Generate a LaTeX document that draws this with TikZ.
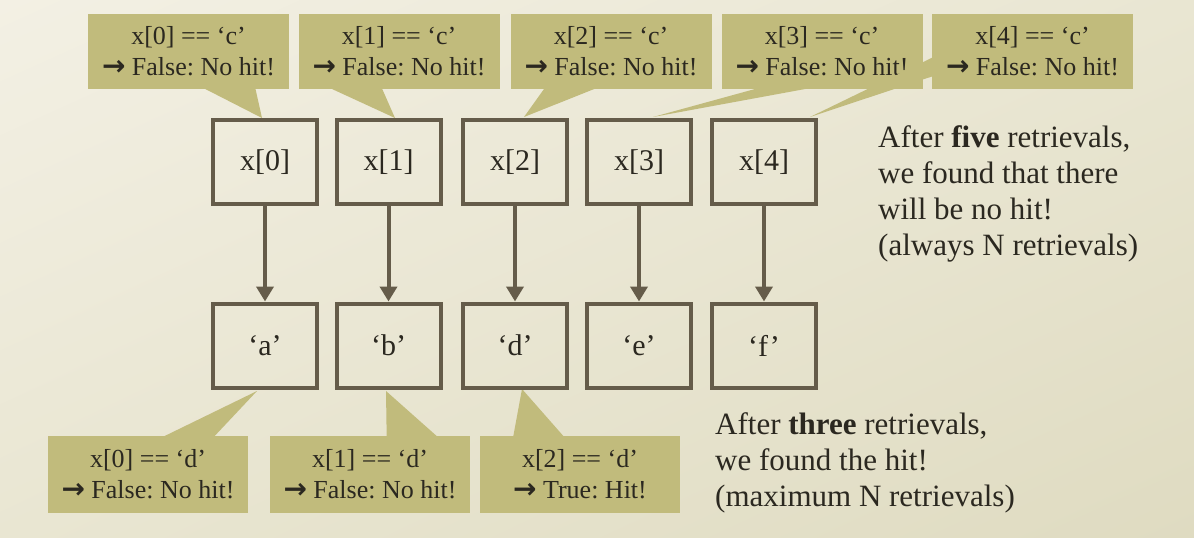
\documentclass[tikz,border=0pt]{standalone}
\usepackage{fontspec}
\setmainfont{Liberation Serif}
\newfontfamily\arrowfont{DejaVu Sans}
\usetikzlibrary{arrows.meta,calc,shadings}
\definecolor{bgA}{HTML}{F3F0E4}
\definecolor{bgM}{HTML}{E9E6D2}
\definecolor{bgB}{HTML}{DFDBC1}
\definecolor{olive}{HTML}{C1BB7C}
\definecolor{boxline}{HTML}{655C4A}
\definecolor{ink}{HTML}{2B2820}
\newcommand\hitarrow{{\arrowfont\bfseries\fontsize{28}{31}\selectfont →}}
\frenchspacing
\begin{document}
\begin{tikzpicture}[x=1pt,y=-1pt,
  callout/.style={fill=olive, minimum width=201pt, minimum height=75pt, inner sep=0pt, outer sep=0pt, align=center, text=ink, font=\fontsize{26}{31}\selectfont},
  bcallout/.style={callout, minimum width=200pt, minimum height=77pt},
  cell/.style={draw=boxline, line width=4pt, minimum width=104pt, minimum height=84pt, inner sep=0pt, text=ink, font=\fontsize{30}{36}\selectfont},
  link/.style={draw=boxline, line width=4pt, -{Triangle[width=17pt,length=15pt]}},
  note/.style={anchor=north west, inner sep=0pt, align=left, text=ink, font=\fontsize{31}{36}\selectfont},
  wedge/.style={fill=olive}
]
\shade[upper left=bgA, upper right=bgM, lower left=bgM, lower right=bgB] (0,0) rectangle (1194,538);
\useasboundingbox (0,0) rectangle (1194,538);

% tips of the callout pointers
\coordinate (t0) at (262,118);
\coordinate (t1) at (395,118);
\coordinate (t2) at (524,117);
\coordinate (t3) at (653,117);
\coordinate (t4) at (810,117);
\coordinate (ta) at (257,391);
\coordinate (tb) at (386,391);
\coordinate (td) at (522,389);

% top callouts
\node[callout] (c0) at (188.5,51.5) {x[0] == ‘c’\\\hitarrow{} False: No hit!};
\fill[wedge] ($(c0.south west)!7/12!(c0.south east)$) -- (t0) -- ($(c0.south west)!10/12!(c0.south east)$) -- cycle;
\node[callout] (c1) at (399,51.5) {x[1] == ‘c’\\\hitarrow{} False: No hit!};
\fill[wedge] ($(c1.south west)!2/12!(c1.south east)$) -- (t1) -- ($(c1.south west)!5/12!(c1.south east)$) -- cycle;
\node[callout] (c2) at (611,51.5) {x[2] == ‘c’\\\hitarrow{} False: No hit!};
\fill[wedge] ($(c2.south west)!2/12!(c2.south east)$) -- (t2) -- ($(c2.south west)!5/12!(c2.south east)$) -- cycle;
\node[callout] (c3) at (822,51.5) {x[3] == ‘c’\\\hitarrow{} False: No hit!};
\fill[wedge] ($(c3.south west)!2/12!(c3.south east)$) -- (t3) -- ($(c3.south west)!5/12!(c3.south east)$) -- cycle;
\node[callout] (c4) at (1032.5,51.5) {x[4] == ‘c’\\\hitarrow{} False: No hit!};
\fill[wedge] ($(c4.north west)!7/12!(c4.south west)$) -- (t4) -- ($(c4.north west)!10/12!(c4.south west)$) -- cycle;

% bottom callouts
\node[bcallout] (ca) at (148,474.5) {x[0] == ‘d’\\\hitarrow{} False: No hit!};
\fill[wedge] ($(ca.north west)!7/12!(ca.north east)$) -- (ta) -- ($(ca.north west)!10/12!(ca.north east)$) -- cycle;
\node[bcallout] (cb) at (370,474.5) {x[1] == ‘d’\\\hitarrow{} False: No hit!};
\fill[wedge] ($(cb.north west)!7/12!(cb.north east)$) -- (tb) -- ($(cb.north west)!10/12!(cb.north east)$) -- cycle;
\node[bcallout] (cd) at (580,474.5) {x[2] == ‘d’\\\hitarrow{} True: Hit!};
\fill[wedge] ($(cd.north west)!2/12!(cd.north east)$) -- (td) -- ($(cd.north west)!5/12!(cd.north east)$) -- cycle;

% cells
\node[cell] (x0) at (265,162) {x[0]};
\node[cell] (x1) at (388.5,162) {x[1]};
\node[cell] (x2) at (515,162) {x[2]};
\node[cell] (x3) at (639,162) {x[3]};
\node[cell] (x4) at (764,162) {x[4]};
\node[cell] (v0) at (265,345.5) {‘a’};
\node[cell] (v1) at (388.5,345.5) {‘b’};
\node[cell] (v2) at (515,345.5) {‘d’};
\node[cell] (v3) at (639,345.5) {‘e’};
\node[cell] (v4) at (764,345.5) {‘f’};

\foreach \i in {0,...,4} \draw[link] (x\i.south) -- (v\i.north);

% notes
\node[note] (n1) at (878,125) {After \textbf{five} retrievals,\\we found that there\\will be no hit!\\(always N retrievals)};
\node[note] (n2) at (715,412) {After \textbf{three} retrievals,\\we found the hit!\\(maximum N retrievals)};
\end{tikzpicture}
\end{document}
